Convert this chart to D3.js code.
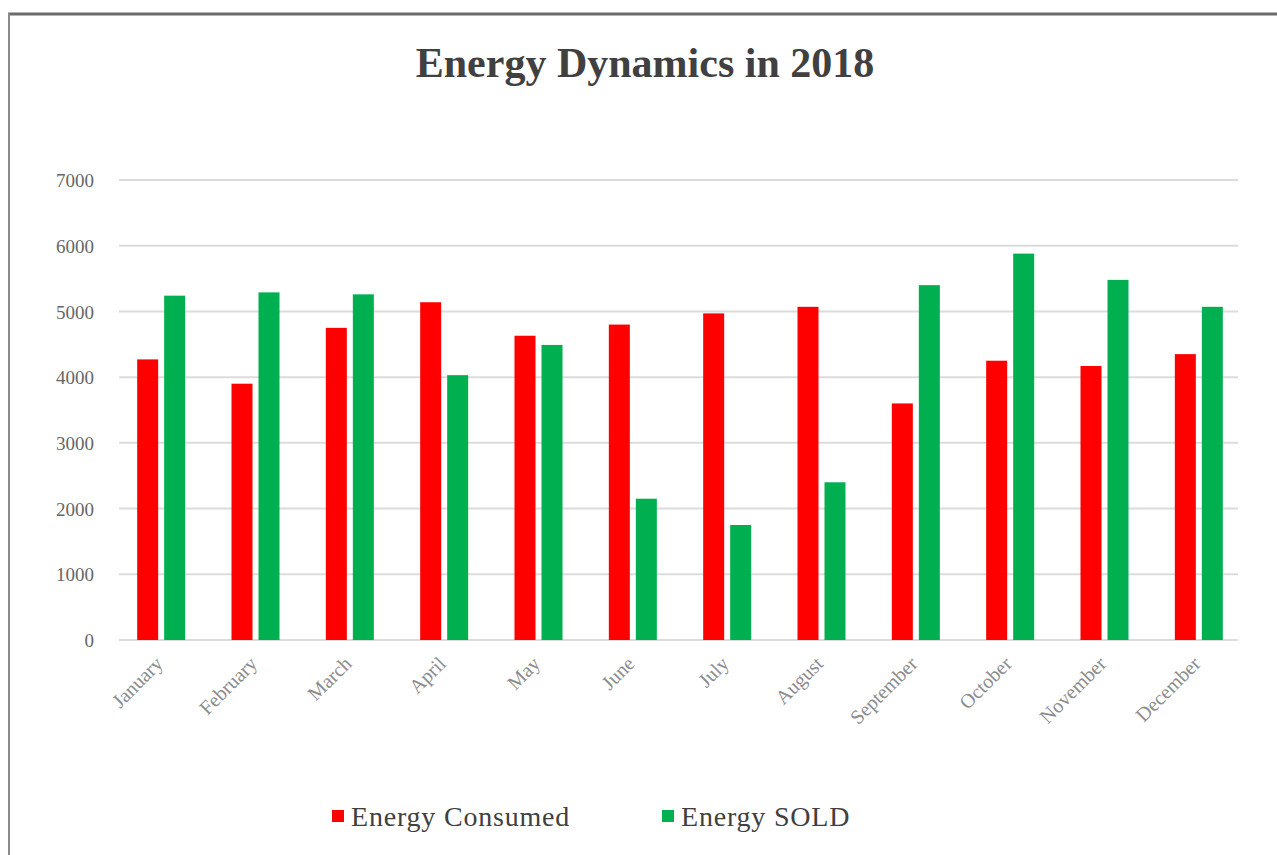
<!DOCTYPE html>
<html>
<head>
<meta charset="utf-8">
<script src="https://cdn.jsdelivr.net/npm/d3@7"></script>
<style>
  html, body { margin: 0; padding: 0; background: #fff; }
  svg { display: block; }
</style>
</head>
<body>
<svg id="chart" width="1277" height="855"></svg>
<script>
// Monthly energy figures for 2018
const months = ["January", "February", "March", "April", "May", "June",
                "July", "August", "September", "October", "November", "December"];
const consumed = [4270, 3900, 4750, 5140, 4630, 4800, 4970, 5070, 3600, 4250, 4170, 4350];
const sold     = [5240, 5290, 5260, 4030, 4490, 2150, 1750, 2400, 5400, 5880, 5480, 5070];
const seriesNames = ["Energy Consumed", "Energy SOLD"];
const seriesColors = ["#FF0000", "#00B050"];
const yTicks = [0, 1000, 2000, 3000, 4000, 5000, 6000, 7000];

const svg = d3.select("#chart");
const serif = "'Liberation Serif', 'DejaVu Serif', serif";

// outer frame of the chart area
svg.append("rect").attr("x", 0).attr("y", 0).attr("width", 1277).attr("height", 855).attr("fill", "#fff");
svg.append("line").attr("x1", 8).attr("x2", 1277).attr("y1", 14).attr("y2", 14)
  .attr("stroke", "#6b6b6b").attr("stroke-width", 3);
svg.append("line").attr("x1", 9).attr("x2", 9).attr("y1", 13).attr("y2", 855)
  .attr("stroke", "#8a8a8a").attr("stroke-width", 2);

// title
svg.append("text")
  .attr("x", 645).attr("y", 77)
  .attr("text-anchor", "middle")
  .attr("font-family", serif)
  .attr("font-weight", "bold")
  .attr("font-size", 42)
  .attr("fill", "#404040")
  .text("Energy Dynamics in 2018");

const x0 = d3.scaleBand().domain(months).range([114, 1246]).paddingInner(0).paddingOuter(0);
const y = d3.scaleLinear().domain([0, 7000]).range([640, 180]);

// horizontal gridlines
svg.append("g")
  .selectAll("line")
  .data(yTicks)
  .join("line")
  .attr("x1", 119).attr("x2", 1238)
  .attr("y1", d => y(d)).attr("y2", d => y(d))
  .attr("stroke", "#dcdcdc").attr("stroke-width", 2);

// y-axis labels
const yAxis = d3.axisLeft(y).tickValues(yTicks).tickSize(0).tickPadding(0).tickFormat(d3.format("d"));
const gy = svg.append("g").attr("transform", "translate(94,0)").call(yAxis);
gy.select(".domain").remove();
gy.selectAll("text")
  .attr("font-family", serif).attr("font-size", 19).attr("fill", "#666666")
  .attr("dy", "0.35em");

// grouped bars
const barW = 21, gap = 6;
const groups = svg.append("g")
  .selectAll("g")
  .data(months.map((m, i) => ({ m, vals: [consumed[i], sold[i]] })))
  .join("g")
  .attr("transform", d => `translate(${x0(d.m) + x0.bandwidth() / 2},0)`);

groups.selectAll("rect")
  .data(d => d.vals.map((v, k) => ({ v, k })))
  .join("rect")
  .attr("x", d => d.k === 0 ? -barW - gap / 2 : gap / 2)
  .attr("width", barW)
  .attr("y", d => y(d.v))
  .attr("height", d => y(0) - y(d.v))
  .attr("fill", d => seriesColors[d.k]);

// x-axis labels, rotated
const xAxis = d3.axisBottom(x0).tickSize(0).tickPadding(0);
const gx = svg.append("g").attr("transform", "translate(-2,660)").call(xAxis);
gx.select(".domain").remove();
gx.selectAll("text")
  .attr("font-family", serif).attr("font-size", 20).attr("fill", "#8c8c8c")
  .attr("text-anchor", "end")
  .attr("dy", "0.35em")
  .attr("transform", "rotate(-45)")
  .attr("x", 0).attr("y", 0);

// legend
const legendPos = [332, 662];
const legend = svg.append("g")
  .selectAll("g")
  .data(seriesNames)
  .join("g")
  .attr("transform", (d, i) => `translate(${legendPos[i]},816)`);
legend.append("rect")
  .attr("x", 0).attr("y", -6).attr("width", 12).attr("height", 12)
  .attr("fill", (d, i) => seriesColors[i]);
legend.append("text")
  .attr("x", 19).attr("y", 0).attr("dy", "0.35em")
  .attr("font-family", serif).attr("font-size", 28).attr("letter-spacing", 0.8)
  .attr("fill", "#404040")
  .text(d => d);
</script>
</body>
</html>
